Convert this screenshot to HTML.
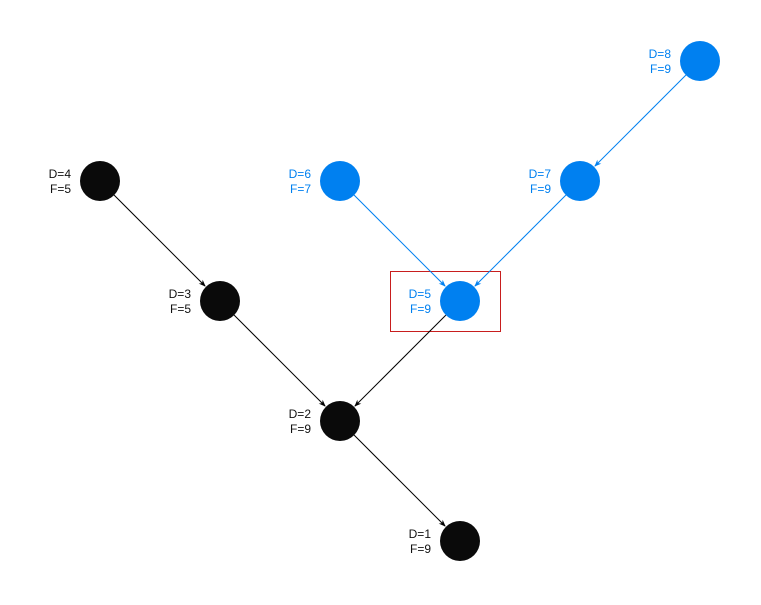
<!DOCTYPE html>
<html><head><meta charset="utf-8"><style>
html,body{margin:0;padding:0;background:#fff;}
svg{display:block;}
text{font-family:"Liberation Sans",Arial,sans-serif;font-size:12px;}
</style></head><body>
<svg id="g" width="761" height="605" viewBox="0 0 761 605">
<defs>
<marker id="ak" viewBox="0 0 10 10" refX="9" refY="5" markerWidth="7" markerHeight="7" orient="auto"><path d="M0,1 L10,5 L0,9 L3,5z" fill="#000"/></marker>
<marker id="ab" viewBox="0 0 10 10" refX="9" refY="5" markerWidth="7" markerHeight="7" orient="auto"><path d="M0,1 L10,5 L0,9 L3,5z" fill="#0080f0"/></marker>
</defs>
<rect x="390.5" y="271.5" width="110" height="60" fill="none" stroke="#c81e1e" stroke-width="1"/>
</svg>
<script>
const ids=[1,2,3,4,5,6,7,8];
const dVals=[1,2,3,4,5,6,7,8];
const fVals=[9,9,5,5,9,7,9,9];
const cx=[460,340,220,100,460,340,580,700];
const cy=[541,421,301,181,301,181,181,61];
const blue=[false,false,false,false,true,true,true,true];
const edges=[[4,3],[3,2],[2,1],[5,2],[6,5],[7,5],[8,7]];
const edgeBlue=[false,false,false,false,true,true,true];
const svg=document.getElementById('g');
const NS='http://www.w3.org/2000/svg';
const R=20;
edges.forEach(([a,b],k)=>{
  const i=a-1,j=b-1;
  const dx=cx[j]-cx[i],dy=cy[j]-cy[i],L=Math.hypot(dx,dy);
  const l=document.createElementNS(NS,'line');
  l.setAttribute('x1',cx[i]+dx/L*R);l.setAttribute('y1',cy[i]+dy/L*R);
  l.setAttribute('x2',cx[j]-dx/L*(R+1));l.setAttribute('y2',cy[j]-dy/L*(R+1));
  const b2=edgeBlue[k];
  l.setAttribute('stroke',b2?'#0080f0':'#000');l.setAttribute('stroke-width','1');
  l.setAttribute('marker-end',b2?'url(#ab)':'url(#ak)');
  
  
  svg.appendChild(l);
});
ids.forEach((id,i)=>{
  const col=blue[i]?'#0080f0':'#0a0a0a';
  const c=document.createElementNS(NS,'circle');
  c.setAttribute('cx',cx[i]);c.setAttribute('cy',cy[i]);c.setAttribute('r',R);c.setAttribute('fill',col);
  
  
  svg.appendChild(c);
  const t=document.createElementNS(NS,'text');
  t.setAttribute('x',cx[i]-29);t.setAttribute('text-anchor','end');
  t.setAttribute('fill',blue[i]?'#0080f0':'#111');
  
  
  const s1=document.createElementNS(NS,'tspan');s1.setAttribute('x',cx[i]-29);s1.setAttribute('y',cy[i]-3);s1.textContent='D='+dVals[i];
  const s2=document.createElementNS(NS,'tspan');s2.setAttribute('x',cx[i]-29);s2.setAttribute('y',cy[i]+12);s2.textContent='F='+fVals[i];
  t.appendChild(s1);t.appendChild(s2);svg.appendChild(t);
});
</script>
</body></html>
